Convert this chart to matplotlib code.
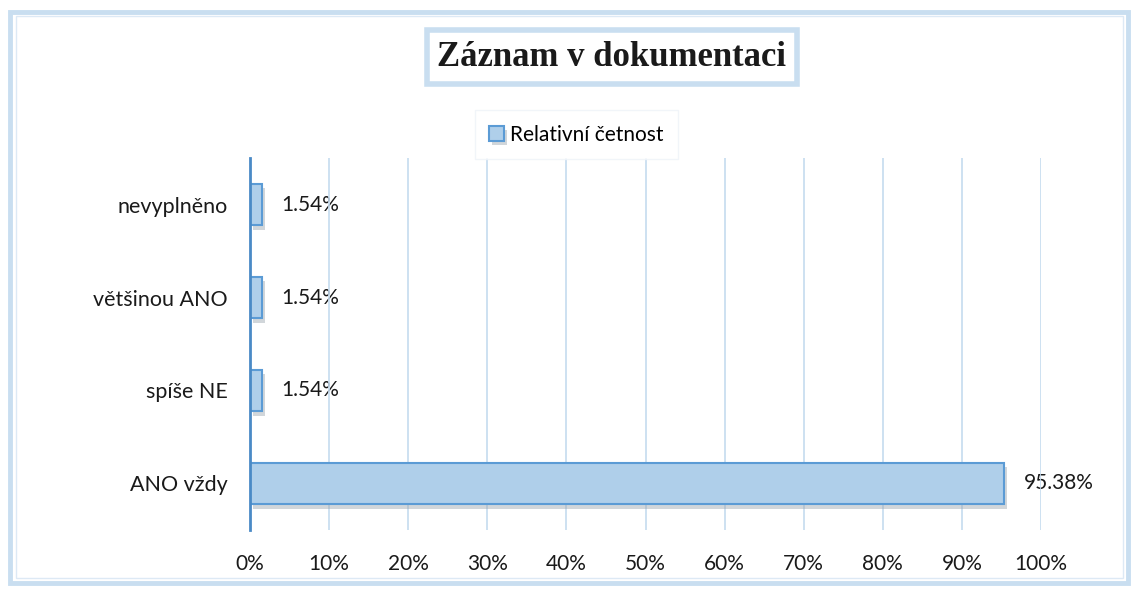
import matplotlib.pyplot as plt
import matplotlib.patheffects as pe
from matplotlib.patches import Rectangle
import numpy as np

categories = ['ANO vždy', 'spíše NE', 'většinou ANO', 'nevyplněno']
values = [95.38, 1.54, 1.54, 1.54]
xticks = [0, 10, 20, 30, 40, 50, 60, 70, 80, 90, 100]

plt.rcParams['font.family'] = ['Lato', 'DejaVu Sans']

fig = plt.figure(figsize=(11.35, 5.89), dpi=100)
ax = fig.add_axes([0.2203, 0.1002, 0.6969, 0.6315])

# outer frame
fig.patches.append(Rectangle((0.009, 0.01), 0.985, 0.97, transform=fig.transFigure,
                             fill=False, edgecolor='#c9def0', linewidth=3.5))
fig.patches.append(Rectangle((0.0145, 0.018), 0.975, 0.955, transform=fig.transFigure,
                             fill=False, edgecolor='#dde9f5', linewidth=1))

y = np.arange(len(categories))
shadow = [pe.SimplePatchShadow(offset=(2, -3), shadow_rgbFace='#9aa4ae', alpha=0.45), pe.Normal()]
bars = ax.barh(y, values, height=0.45, color='#afcfea', edgecolor='#5b9bd5',
               linewidth=1.5, zorder=3, label='Relativní četnost')
for b in bars:
    b.set_path_effects(shadow)

for xv in xticks[1:]:
    ax.axvline(xv, color='#c5dbef', linewidth=1.2, zorder=2)

for yi, v in zip(y, values):
    ax.annotate(f'{v:.2f}%', (v, yi), xytext=(14, 0), textcoords='offset points',
                ha='left', va='center', fontsize=15, color='#1a1a1a', zorder=1,
                bbox=dict(boxstyle='square,pad=0.3', facecolor='white', edgecolor='none'))

ax.set_xlim(0, 100)
ax.set_ylim(-0.5, 3.5)
ax.set_xticks(xticks)
ax.set_xticklabels([f'{t}%' for t in xticks], fontsize=15, color='#1a1a1a')
ax.set_yticks(y)
ax.set_yticklabels(categories, fontsize=15.5, color='#1a1a1a')
ax.tick_params(axis='both', length=0)
ax.tick_params(axis='x', pad=17)
ax.tick_params(axis='y', pad=16)
for s in ['top', 'right', 'bottom']:
    ax.spines[s].set_visible(False)
ax.spines['left'].set_color('#4a8ac6')
ax.spines['left'].set_linewidth(2)
ax.spines['left'].set_zorder(4)

fig.text(0.539, 0.903, 'Záznam v dokumentaci', ha='center', va='center',
         fontsize=25, fontweight='bold', family=['Liberation Serif', 'DejaVu Serif'],
         color='#1a1a1a',
         bbox=dict(boxstyle='square,pad=0.3', facecolor='white', edgecolor='#c9def0', linewidth=4))

leg = fig.legend(handles=[bars], loc='center', bbox_to_anchor=(0.508, 0.771),
                 fontsize=15, frameon=True, fancybox=False, handlelength=0.7,
                 handleheight=0.7, handletextpad=0.3, borderpad=0.7, borderaxespad=0)
leg.get_frame().set_edgecolor('#eef3f8')
leg.get_frame().set_linewidth(1)

fig.savefig('out.png', dpi=100)
